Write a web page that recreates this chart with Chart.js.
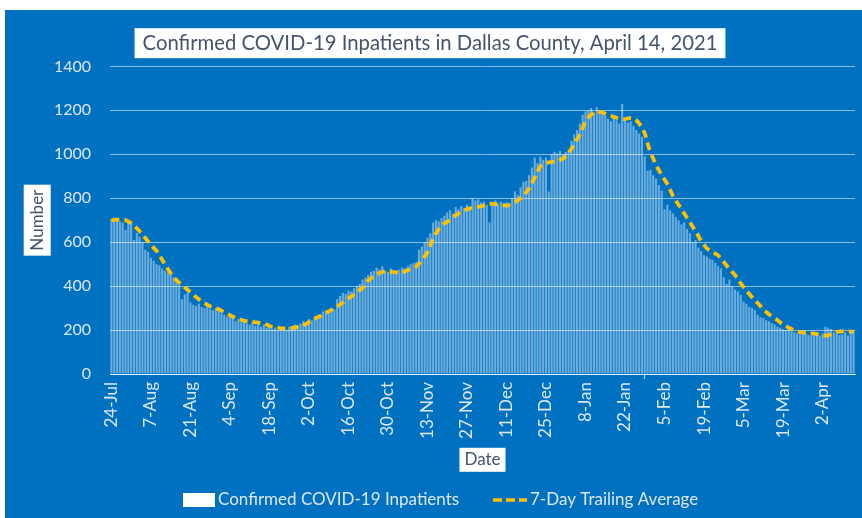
<!DOCTYPE html>
<html>
<head>
<meta charset="utf-8">
<script src="https://cdn.jsdelivr.net/npm/chart.js@4.4.1/dist/chart.umd.min.js"></script>
<style>
  html, body { margin: 0; padding: 0; background: #fff; }
  #panel { position: absolute; left: 5px; top: 10px; width: 857px; height: 508px; background: #0070c0; }
</style>
</head>
<body>
<div id="panel"><canvas id="chart"></canvas></div>
<script>
// Inpatients au jour le jour, 24 juillet 2020 -> 13 avril 2021 (264 jours),
// une ligne = deux semaines, comme l'axe des dates.
const INPATIENTS = [
  705, 712, 700, 695, 690, 655, 690, 685, 610, 642, 625, 600, 565, 555,
  530, 515, 500, 495, 480, 470, 462, 452, 440, 420, 405, 340, 362, 370,
  325, 315, 310, 320, 305, 300, 310, 295, 290, 300, 285, 275, 270, 262,
  260, 255, 240, 250, 235, 245, 230, 225, 235, 220, 228, 215, 225, 210,
  215, 205, 212, 200, 208, 210, 200, 215, 218, 225, 220, 230, 240, 235,
  250, 245, 260, 265, 255, 285, 290, 280, 300, 295, 340, 355, 370, 365,
  380, 375, 390, 400, 410, 430, 440, 450, 465, 470, 485, 475, 490, 470,
  465, 480, 460, 470, 475, 485, 480, 490, 500, 505, 510, 565, 580, 600,
  620, 640, 690, 700, 695, 710, 720, 735, 745, 730, 760, 750, 765, 755,
  770, 760, 800, 790, 795, 780, 785, 770, 690, 780, 790, 775, 785, 770,
  780, 775, 800, 830, 815, 850, 875, 880, 905, 940, 985, 960, 990, 975,
  985, 830, 1000, 1010, 1005, 1015, 1000, 1010, 1020, 1060, 1090, 1110, 1140, 1180,
  1195, 1200, 1210, 1190, 1215, 1200, 1185, 1175, 1160, 1150, 1170, 1155, 1140, 1230,
  1160, 1145, 1150, 1130, 1110, 1095, 1080, 990, 925, 930, 905, 890, 860, 835,
  750, 770, 745, 730, 715, 700, 680, 690, 660, 640, 600, 610, 575, 560,
  540, 535, 525, 520, 505, 490, 480, 440, 410, 430, 400, 385, 375, 360,
  330, 320, 305, 300, 290, 270, 258, 255, 245, 240, 232, 225, 215, 210,
  205, 200, 205, 195, 190, 185, 180, 190, 185, 178, 175, 182, 180, 175,
  185, 215, 210, 205, 190, 185, 178, 180, 190, 175, 185, 200
];

const TRAILING_AVG = [
  700, 701, 702, 702, 701, 700, 694, 687, 675, 663, 650, 635, 619, 603,
  589, 574, 560, 540, 520, 499, 478, 459, 440, 428, 416, 405, 394, 383,
  371, 360, 350, 340, 330, 323, 315, 308, 304, 299, 295, 288, 280, 274,
  268, 261, 254, 250, 246, 243, 240, 238, 237, 235, 234, 232, 231, 225,
  218, 215, 213, 211, 209, 208, 208, 209, 210, 212, 214, 216, 222, 228,
  236, 244, 251, 258, 264, 271, 277, 285, 292, 300, 308, 315, 325, 335,
  344, 353, 362, 372, 382, 392, 408, 425, 436, 447, 453, 460, 464, 467,
  466, 465, 464, 462, 460, 463, 467, 472, 478, 483, 489, 502, 515, 535,
  555, 585, 615, 640, 660, 673, 685, 693, 700, 711, 722, 731, 740, 745,
  750, 754, 757, 759, 761, 763, 767, 771, 775, 774, 773, 771, 769, 768,
  766, 770, 775, 782, 790, 800, 810, 827, 845, 870, 895, 920, 945, 953,
  960, 963, 965, 967, 968, 974, 980, 992, 1005, 1025, 1045, 1068, 1090, 1120,
  1150, 1167, 1181, 1188, 1195, 1193, 1190, 1185, 1180, 1175, 1170, 1166, 1163, 1161,
  1160, 1163, 1165, 1162, 1155, 1140, 1120, 1095, 1050, 1010, 980, 950, 928, 905,
  885, 865, 838, 810, 790, 770, 750, 730, 710, 690, 670, 650, 628, 605,
  588, 572, 563, 555, 548, 540, 525, 510, 494, 478, 464, 450, 431, 412,
  396, 380, 365, 350, 336, 323, 309, 295, 283, 272, 263, 255, 245, 235,
  226, 218, 211, 205, 199, 194, 191, 189, 187, 186, 185, 184, 182, 180,
  177, 175, 177, 180, 186, 192, 193, 194, 194, 193, 193, 193
];

const TICK_LABELS = [
  '24-Jul', '7-Aug', '21-Aug', '4-Sep', '18-Sep', '2-Oct', '16-Oct', '30-Oct', '13-Nov', '27-Nov',
  '11-Dec', '25-Dec', '8-Jan', '22-Jan', '5-Feb', '19-Feb', '5-Mar', '19-Mar', '2-Apr'
];

const TITLE = 'Confirmed COVID-19 Inpatients in Dallas County, April 14, 2021';
const LEGEND_BARS = 'Confirmed COVID-19 Inpatients';
const LEGEND_LINE = '7-Day Trailing Average';

const MONTHS = ['Jan', 'Feb', 'Mar', 'Apr', 'May', 'Jun', 'Jul', 'Aug', 'Sep', 'Oct', 'Nov', 'Dec'];
const DAYS = INPATIENTS.map(function (_, i) {
    const d = new Date(Date.UTC(2020, 6, 24 + i));
    return d.getUTCDate() + '-' + MONTHS[d.getUTCMonth()];
});

const FONT = 'Lato';
const TEXT_LIGHT = '#dce7f3';
const TEXT_DARK = '#44546a';
const GRID = 'rgba(255,255,255,0.55)';
const AXIS = 'rgba(255,255,255,0.75)';
const YELLOW = '#ffc000';

const Y_TITLE_PAD = 22;
const X_TITLE_PAD = 8;
const AXIS_TITLE_SIZE = 17;
const TITLE_SIZE = 20.3;
const TITLE_PAD_TOP = 21;

// Cadres blancs derrière les titres (comme dans Excel) + légende dessinée à la main
const decorations = {
    id: 'decorations',
    beforeDraw(chart) {
        const ctx = chart.ctx;
        ctx.save();
        ctx.fillStyle = '#ffffff';

        const tb = chart.titleBlock;
        ctx.font = TITLE_SIZE + 'px ' + FONT;
        const tw = ctx.measureText(TITLE).width;
        const tcx = (tb.left + tb.right) / 2;
        const tcy = tb.top + TITLE_PAD_TOP + TITLE_SIZE * 1.2 / 2;
        ctx.fillRect(tcx - tw / 2 - 8, tcy - 15, tw + 16, 30);

        const lh = AXIS_TITLE_SIZE * 1.2;
        ctx.font = AXIS_TITLE_SIZE + 'px ' + FONT;

        const ys = chart.scales.y;
        const nw = ctx.measureText('Number').width;
        const ycx = ys.left + Y_TITLE_PAD + lh / 2;
        const ycy = (ys.top + ys.bottom) / 2;
        ctx.fillRect(ycx - 13.5, ycy - nw / 2 - 5, 27, nw + 10);

        const xs = chart.scales.x;
        const dw = ctx.measureText('Date').width;
        const xcx = (xs.left + xs.right) / 2;
        const xcy = xs.bottom - X_TITLE_PAD - lh / 2;
        ctx.fillRect(xcx - dw / 2 - 5, xcy - 12, dw + 10, 24);
        ctx.restore();
    },
    afterDraw(chart) {
        const ctx = chart.ctx;
        const y = 490;
        ctx.save();
        ctx.fillStyle = '#ffffff';
        ctx.fillRect(178, y - 7, 32, 14);

        ctx.font = '17px ' + FONT;
        ctx.fillStyle = TEXT_LIGHT;
        ctx.textBaseline = 'middle';
        ctx.textAlign = 'left';
        ctx.fillText(LEGEND_BARS, 213, y);

        ctx.strokeStyle = YELLOW;
        ctx.lineWidth = 3.5;
        ctx.setLineDash([9, 4]);
        ctx.beginPath();
        ctx.moveTo(488, y);
        ctx.lineTo(522, y);
        ctx.stroke();
        ctx.setLineDash([]);
        ctx.fillText(LEGEND_LINE, 525, y);
        ctx.restore();
    }
};

Chart.defaults.font.family = FONT;

new Chart(document.getElementById('chart'), {
    type: 'bar',
    data: {
        labels: DAYS,
        datasets: [
            {
                type: 'line',
                label: LEGEND_LINE,
                data: TRAILING_AVG,
                borderColor: YELLOW,
                borderWidth: 3.8,
                borderDash: [8, 5],
                pointRadius: 0,
                tension: 0.4,
                order: 0
            },
            {
                label: LEGEND_BARS,
                data: INPATIENTS,
                backgroundColor: 'rgba(255,255,255,0.42)',
                barPercentage: 0.75,
                categoryPercentage: 1,
                order: 1
            }
        ]
    },
    options: {
        responsive: true,
        maintainAspectRatio: false,
        animation: false,
        layout: { padding: { top: 0, right: 7, bottom: 40, left: 0 } },
        plugins: {
            legend: { display: false },
            tooltip: { enabled: false },
            title: {
                display: true,
                text: TITLE,
                color: TEXT_DARK,
                font: { size: TITLE_SIZE, weight: 'normal' },
                padding: { top: TITLE_PAD_TOP, bottom: 11 }
            }
        },
        scales: {
            x: {
                grid: {
                    drawOnChartArea: false,
                    tickLength: 5,
                    color: function (c) { return c.index % 14 === 0 ? AXIS : 'rgba(0,0,0,0)'; }
                },
                border: { color: AXIS },
                ticks: {
                    autoSkip: false,
                    minRotation: 90,
                    maxRotation: 90,
                    padding: 3,
                    color: TEXT_LIGHT,
                    font: { size: 17 },
                    callback: function (v) {
                        const lab = this.getLabelForValue(v);
                        return TICK_LABELS.indexOf(lab) >= 0 ? lab : null;
                    }
                },
                title: {
                    display: true,
                    text: 'Date',
                    color: TEXT_DARK,
                    font: { size: AXIS_TITLE_SIZE },
                    padding: { top: 0, bottom: X_TITLE_PAD }
                },
                afterFit: function (s) { s.height = 104; }
            },
            y: {
                min: 0,
                max: 1400,
                ticks: {
                    stepSize: 200,
                    padding: 19,
                    color: TEXT_LIGHT,
                    font: { size: 16 },
                    callback: function (v) { return String(v); }
                },
                grid: { color: GRID, drawTicks: false },
                border: { display: false },
                title: {
                    display: true,
                    text: 'Number',
                    color: TEXT_DARK,
                    font: { size: AXIS_TITLE_SIZE },
                    padding: { top: Y_TITLE_PAD, bottom: 0 }
                },
                afterFit: function (s) { s.width = 105; }
            }
        }
    },
    plugins: [decorations]
});
</script>
</body>
</html>
